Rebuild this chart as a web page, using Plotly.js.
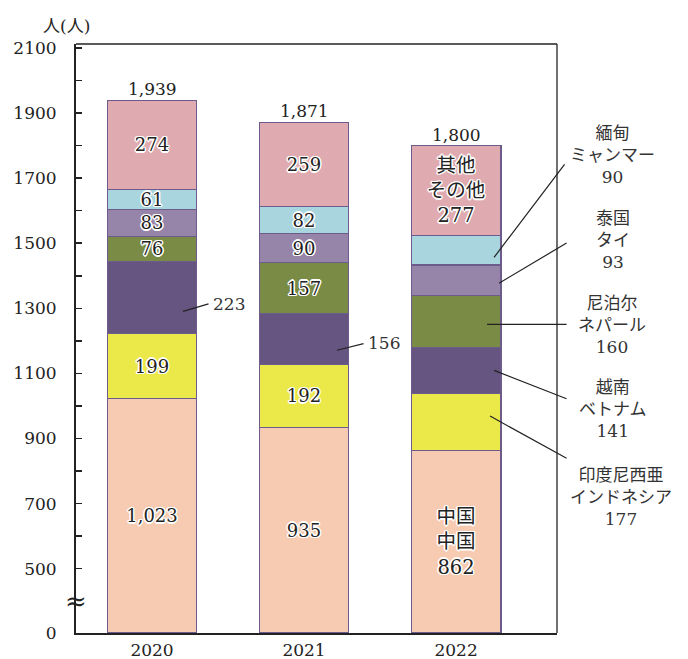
<!DOCTYPE html>
<html>
<head>
<meta charset="utf-8">
<script src="https://cdn.plot.ly/plotly-3.0.1.min.js"></script>
<style>html,body{margin:0;padding:0;background:#fff;}#chart{width:688px;height:659px;}</style>
</head>
<body>
<div id="chart"></div>
<script>
// ---- data ----
const years = ['2020', '2021', '2022'];
const namesZh = ['中国', '印度尼西亜', '越南', '尼泊尔', '泰国', '緬甸', '其他'];
const namesJa = ['中国', 'インドネシア', 'ベトナム', 'ネパール', 'タイ', 'ミャンマー', 'その他'];
const china     = [1023, 935, 862];
const indonesia = [199, 192, 177];
const vietnam   = [223, 156, 141];
const nepal     = [76, 157, 160];
const thailand  = [83, 90, 93];
const myanmar   = [61, 82, 90];
const other     = [274, 259, 277];
const totals    = [1939, 1871, 1800];
const yTickLabels = [0, 500, 700, 900, 1100, 1300, 1500, 1700, 1900, 2100];
const yMinorTicks = [600, 800, 1000, 1200, 1400, 1600, 1800, 2000];

// ---- configuration ----
const series = [china, indonesia, vietnam, nepal, thailand, myanmar, other];
const colors = ['#f7cbb1', '#ebe84a', '#665580', '#7a8b45', '#9685a8', '#a9d6de', '#dfabb0'];
// 1 = value inside the segment, 2 = names + value inside, 0 = labelled outside
const insideMode = [
  [1, 1, 2],
  [1, 1, 0],
  [0, 0, 0],
  [1, 1, 0],
  [1, 1, 0],
  [1, 1, 0],
  [1, 1, 2]
];
const BREAK = 302.5;   // axis break: values below this are hidden
const Y_TOP = 2112;

const FONT = 'DejaVu Serif, Noto Sans CJK JP, serif';
const HALO = '1px 1px 0 #fff, -1px -1px 0 #fff, 1px -1px 0 #fff, -1px 1px 0 #fff, 0 1.5px 0 #fff, 0 -1.5px 0 #fff, 1.5px 0 0 #fff, -1.5px 0 0 #fff';
const fmt = v => v.toLocaleString('en-US');

const traces = series.map((vals, s) => {
  const text = vals.map((v, i) => {
    const m = insideMode[s][i];
    if (m === 0) return '';
    if (m === 2) return namesZh[s] + '<br>' + namesJa[s] + '<br>' + fmt(v);
    return fmt(v);
  });
  const sizes = vals.map((v, i) => insideMode[s][i] === 2 ? 19.5 : 18);
  return {
    type: 'bar',
    x: years,
    y: s === 0 ? vals.map(v => v - BREAK) : vals,
    name: namesJa[s],
    marker: {color: colors[s], line: {color: '#6b5c8c', width: 1.2}},
    text: text,
    textposition: 'inside',
    insidetextanchor: 'middle',
    textangle: 0,
    constraintext: 'none',
    insidetextfont: {family: FONT, size: sizes, color: '#222', shadow: HALO},
    hoverinfo: 'skip'
  };
});

// segment middles on the plotted (broken) scale
function segMid(s, i) {
  let base = 0;
  for (let k = 0; k < s; k++) base += series[k][i];
  return base + series[s][i] / 2 - BREAK;
}

// callouts: leader line + label (pixel offsets)
const callouts = [
  {s: 2, i: 0, hx: 31, hy: -14, ax: 27, ay: -8,  lx: 59,  ly: -7,  full: false},
  {s: 2, i: 1, hx: 33, hy: -11, ax: 28, ay: -7,  lx: 62,  ly: -4,  full: false},
  {s: 5, i: 2, hx: 38, hy: -7,  ax: 72, ay: -95, lx: 156, ly: 95,  full: true},
  {s: 4, i: 2, hx: 43, hy: -3,  ax: 69, ay: -41, lx: 157, ly: 40,  full: true},
  {s: 3, i: 2, hx: 31, hy: -3,  ax: 81, ay: 0,   lx: 156, ly: -4,  full: true},
  {s: 2, i: 2, hx: 38, hy: 0,   ax: 74, ay: 29,  lx: 157, ly: -39, full: true},
  {s: 1, i: 2, hx: 34, hy: 6,   ax: 78, ay: 43,  lx: 165, ly: -75, full: true}
];

const annotations = [];
callouts.forEach(c => {
  const y = segMid(c.s, c.i);
  annotations.push({
    x: c.i, y: y, xref: 'x', yref: 'y',
    xshift: c.hx, yshift: c.hy, ax: c.ax, ay: c.ay,
    showarrow: true, arrowhead: 0, arrowwidth: 1.2, arrowcolor: '#222',
    standoff: 0, text: ' ', font: {size: 1}
  });
  const v = series[c.s][c.i];
  annotations.push({
    x: c.i, y: y, xref: 'x', yref: 'y',
    xshift: c.lx, yshift: c.ly,
    xanchor: c.full ? 'center' : 'left', yanchor: 'middle',
    showarrow: false, align: 'center',
    text: c.full ? namesZh[c.s] + '<br>' + namesJa[c.s] + '<br>' + fmt(v) : fmt(v),
    font: {family: FONT, size: 17, color: '#333'}
  });
});

// totals
totals.forEach((t, i) => {
  annotations.push({
    x: i, y: t - BREAK, xref: 'x', yref: 'y', yanchor: 'middle', yshift: 11,
    showarrow: false, text: fmt(t), font: {family: FONT, size: 17, color: '#222'}
  });
});

// axis unit and break mark
annotations.push({
  xref: 'paper', yref: 'paper', x: 0, y: 1, xanchor: 'center', yanchor: 'bottom',
  xshift: -10, yshift: 6, showarrow: false, text: '人(人)',
  font: {family: FONT, size: 17, color: '#222'}
});
annotations.push({
  xref: 'paper', yref: 'y', x: 0, y: 400 - BREAK, xanchor: 'center', yanchor: 'middle',
  showarrow: false, text: '≈', font: {family: FONT, size: 26, color: '#222'}
});

const layout = {
  width: 688, height: 659,
  margin: {l: 76, r: 131, t: 44, b: 26, pad: 0},
  paper_bgcolor: '#fff', plot_bgcolor: '#fff',
  font: {family: FONT, size: 17, color: '#222'},
  barmode: 'stack', bargap: 0.41,
  showlegend: false,
  xaxis: {
    type: 'category', range: [-0.5, 2.664], fixedrange: true,
    showline: true, linewidth: 2, linecolor: '#222',
    ticks: '', showgrid: false, zeroline: false,
    ticklabelstandoff: 1,
    tickfont: {family: FONT, size: 17, color: '#222'}
  },
  yaxis: {
    range: [0, Y_TOP - BREAK], fixedrange: true,
    tickmode: 'array',
    tickvals: yTickLabels.map(v => v === 0 ? 0 : v - BREAK),
    ticktext: yTickLabels.map(String),
    ticks: 'inside', ticklen: 6, tickwidth: 1.5, tickcolor: '#222',
    ticklabelstandoff: 14,
    minor: {tickmode: 'array', tickvals: yMinorTicks.map(v => v - BREAK), ticks: 'inside', ticklen: 6, tickwidth: 1.5, tickcolor: '#222', showgrid: false},
    showline: true, linewidth: 2, linecolor: '#222',
    showgrid: false, zeroline: false,
    tickfont: {family: FONT, size: 17, color: '#222'}
  },
  shapes: [
    {type: 'line', xref: 'paper', yref: 'paper', x0: 0, x1: 1, y0: 1, y1: 1, line: {color: '#222', width: 1.3}},
    {type: 'line', xref: 'paper', yref: 'paper', x0: 1, x1: 1, y0: 0, y1: 1, line: {color: '#222', width: 1.3}}
  ],
  annotations: annotations,
  hovermode: false
};

Plotly.newPlot('chart', traces, layout, {displayModeBar: false, staticPlot: true});
</script>
</body>
</html>
